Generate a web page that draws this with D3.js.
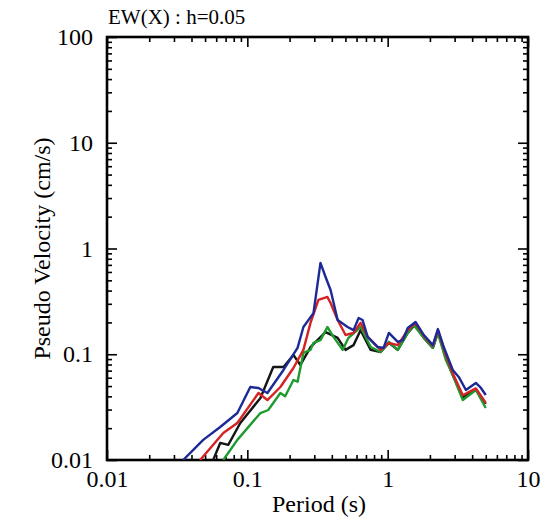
<!DOCTYPE html>
<html><head><meta charset="utf-8">
<script src="https://cdn.jsdelivr.net/npm/d3@7"></script>
<style>body{margin:0;background:#fff}svg{display:block}</style>
</head><body>
<script>
const title = "EW(X) : h=0.05";
const xLabel = "Period (s)";
const yLabel = "Pseudo Velocity (cm/s)";
const xMajor = [0.01, 0.1, 1, 10];
const xMajorLabels = ["0.01", "0.1", "1", "10"];
const yMajor = [0.01, 0.1, 1, 10, 100];
const yMajorLabels = ["0.01", "0.1", "1", "10", "100"];

const blueT = [0.0349,0.0485,0.0641,0.0849,0.105,0.120,0.139,0.181,0.228,0.251,0.296,0.332,0.361,0.392,0.440,0.518,0.571,0.621,0.662,0.720,0.849,0.935,1.02,1.18,1.28,1.39,1.58,1.81,2.10,2.28,2.51,2.91,3.21,3.61,4.25,4.62,5.0];
const blueV = [0.01,0.0155,0.0205,0.0278,0.049,0.048,0.043,0.071,0.115,0.181,0.245,0.73,0.538,0.405,0.211,0.181,0.169,0.220,0.211,0.146,0.117,0.115,0.159,0.131,0.136,0.177,0.202,0.152,0.122,0.173,0.117,0.071,0.061,0.0459,0.0535,0.048,0.0412];

const redT = [0.0461,0.0674,0.0849,0.120,0.139,0.172,0.213,0.251,0.282,0.321,0.372,0.392,0.440,0.501,0.571,0.641,0.720,0.891,1.02,1.18,1.39,1.58,1.81,2.10,2.28,2.60,2.91,3.43,4.25,5.0];
const redV = [0.01,0.018,0.0224,0.043,0.0369,0.049,0.0741,0.110,0.198,0.326,0.348,0.305,0.211,0.152,0.159,0.198,0.146,0.110,0.128,0.122,0.169,0.198,0.149,0.120,0.169,0.098,0.066,0.041,0.0475,0.0346];

const blackT = [0.0571,0.0641,0.0731,0.0891,0.124,0.153,0.181,0.213,0.239,0.282,0.316,0.361,0.440,0.501,0.571,0.641,0.757,0.891,1.02,1.18,1.39,1.56,1.81,2.10,2.28,2.60,2.91,3.43,4.25,5.0];
const blackV = [0.01,0.0145,0.0139,0.0224,0.0386,0.0757,0.0757,0.0984,0.0791,0.117,0.136,0.162,0.143,0.110,0.122,0.169,0.110,0.105,0.128,0.110,0.159,0.189,0.143,0.115,0.162,0.0922,0.0637,0.0386,0.047,0.034];

const greenT = [0.0674,0.0849,0.124,0.141,0.172,0.186,0.213,0.228,0.251,0.282,0.296,0.332,0.372,0.411,0.478,0.526,0.641,0.757,0.891,1.02,1.18,1.39,1.53,1.81,2.10,2.28,2.60,2.91,3.43,4.25,5.0];
const greenV = [0.01,0.0155,0.0278,0.0297,0.043,0.040,0.0571,0.055,0.103,0.110,0.128,0.136,0.181,0.146,0.110,0.143,0.181,0.117,0.105,0.131,0.110,0.159,0.189,0.143,0.115,0.159,0.088,0.0637,0.0369,0.0459,0.031];

const seriesNames = ["black", "green", "red", "blue"];
const seriesColors = ["#151515", "#1f9a2e", "#d52222", "#1c2a96"];
const seriesT = [blackT, greenT, redT, blueT];
const seriesV = [blackV, greenV, redV, blueV];

const W = 549, H = 521;
const L = 107, R = 528, T = 37, B = 460;
const svg = d3.select("body").append("svg").attr("width", W).attr("height", H);
const x = d3.scaleLog().domain([0.01, 10]).range([L, R]);
const y = d3.scaleLog().domain([0.01, 100]).range([B, T]);

function minors(lo, hi) {
  const out = [];
  for (let d = lo; d < hi; d *= 10) for (let k = 2; k <= 9; k++) out.push(+(d * k).toPrecision(3));
  return out;
}
const xMinor = minors(0.01, 10), yMinor = minors(0.01, 100);
const font = '"Liberation Serif", serif';

function styleAxis(g) {
  g.attr("font-family", null).attr("font-size", null);
  g.select(".domain").remove();
  g.selectAll("line").attr("stroke", "#000").attr("stroke-width", 1.6);
  g.selectAll("text").style("font-family", font).style("font-size", "24px").attr("fill", "#000");
}
// bottom
svg.append("g").attr("transform", `translate(0,${B})`)
  .call(d3.axisBottom(x).tickValues(xMinor).tickSize(-5).tickFormat("")).call(styleAxis);
svg.append("g").attr("transform", `translate(0,${B})`)
  .call(d3.axisBottom(x).tickValues(xMajor).tickSize(-10).tickPadding(10).tickFormat((d, i) => xMajorLabels[i])).call(styleAxis);
// top
svg.append("g").attr("transform", `translate(0,${T})`)
  .call(d3.axisTop(x).tickValues(xMinor).tickSize(-5).tickFormat("")).call(styleAxis);
svg.append("g").attr("transform", `translate(0,${T})`)
  .call(d3.axisTop(x).tickValues(xMajor).tickSize(-10).tickFormat("")).call(styleAxis);
// left
svg.append("g").attr("transform", `translate(${L},0)`)
  .call(d3.axisLeft(y).tickValues(yMinor).tickSize(-5).tickFormat("")).call(styleAxis);
svg.append("g").attr("transform", `translate(${L},0)`)
  .call(d3.axisLeft(y).tickValues(yMajor).tickSize(-10).tickPadding(14).tickFormat((d, i) => yMajorLabels[i])).call(styleAxis);
// right
svg.append("g").attr("transform", `translate(${R},0)`)
  .call(d3.axisRight(y).tickValues(yMinor).tickSize(-5).tickFormat("")).call(styleAxis);
svg.append("g").attr("transform", `translate(${R},0)`)
  .call(d3.axisRight(y).tickValues(yMajor).tickSize(-10).tickFormat("")).call(styleAxis);

// frame
svg.append("rect").attr("x", L).attr("y", T).attr("width", R - L).attr("height", B - T)
  .attr("fill", "none").attr("stroke", "#000").attr("stroke-width", 2.6);

// curves
svg.append("clipPath").attr("id", "clip").append("rect")
  .attr("x", L).attr("y", T).attr("width", R - L).attr("height", B - T);
const line = d3.line().x(d => x(d[0])).y(d => y(d[1]));
seriesNames.forEach((name, i) => {
  const pts = seriesT[i].map((t, j) => [t, seriesV[i][j]]);
  svg.append("path").datum(pts).attr("clip-path", "url(#clip)")
    .attr("d", line).attr("fill", "none").attr("stroke", seriesColors[i])
    .attr("stroke-width", 2.4).attr("stroke-linejoin", "round");
});

// texts
svg.append("text").attr("x", L + 1).attr("y", 24).style("font-family", font).style("font-size", "21px")
  .text(title);
svg.append("text").attr("x", 319).attr("y", 512).attr("text-anchor", "middle")
  .style("font-family", font).style("font-size", "24px").text(xLabel);
svg.append("text").attr("transform", `translate(50,${(T + B) / 2}) rotate(-90)`).attr("text-anchor", "middle")
  .style("font-family", font).style("font-size", "24px").text(yLabel);
</script>
</body></html>
